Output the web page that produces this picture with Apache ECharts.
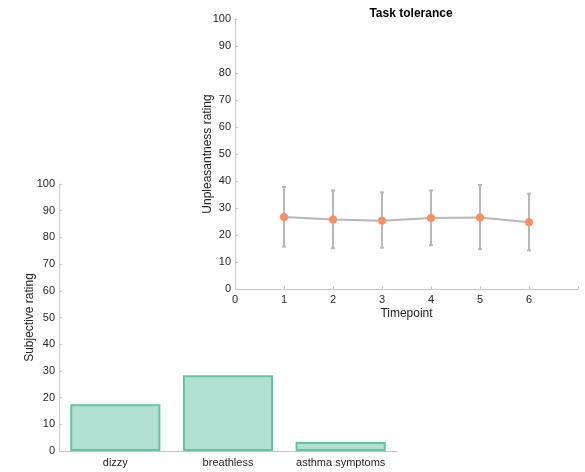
<!DOCTYPE html>
<html><head><meta charset="utf-8">
<script src="https://cdn.jsdelivr.net/npm/echarts@6/dist/echarts.min.js"></script>
<style>html,body{margin:0;padding:0;background:#fff}#c{width:585px;height:472px}</style>
</head><body><div id="c"></div>
<script>
const barCategories = ['dizzy', 'breathless', 'asthma symptoms'];
const barValues = [17.5, 28.4, 3.4];
const timepoints = [1, 2, 3, 4, 5, 6];
const meanRating = [26.7, 25.7, 25.3, 26.3, 26.5, 24.7];
const upperRating = [37.8, 36.5, 35.8, 36.5, 38.5, 35.3];
const lowerRating = [15.7, 15.1, 15.3, 16.2, 14.8, 14.3];

const FONT = 'Liberation Sans, Arial, sans-serif';
const txt = '#262626';
const axisCol = '#c8c8c8';
const chart = echarts.init(document.getElementById('c'));
const yAxisCommon = {
  type: 'value', min: 0, max: 100, interval: 10,
  axisLine: { show: true, lineStyle: { color: axisCol } },
  axisTick: { show: true, inside: true, length: 3, lineStyle: { color: axisCol } },
  axisLabel: { color: txt, fontSize: 11, fontFamily: FONT, margin: 4 },
  splitLine: { show: false },
  nameLocation: 'middle', nameMoveOverlap: false,
  nameTextStyle: { color: txt, fontSize: 12, fontFamily: FONT }
};
chart.setOption({
  animation: false,
  title: { text: 'Task tolerance', left: 406, top: 3, textAlign: 'center',
    textStyle: { fontSize: 12, fontWeight: 'bold', color: '#000', fontFamily: FONT } },
  grid: [
    { left: 59, top: 184, width: 338, height: 267 },
    { left: 235, top: 19, width: 343, height: 270 }
  ],
  xAxis: [
    { gridIndex: 0, type: 'category', data: barCategories,
      axisLine: { lineStyle: { color: axisCol } },
      axisTick: { show: true, inside: true, alignWithLabel: true, length: 3, lineStyle: { color: axisCol } },
      axisLabel: { color: txt, fontSize: 11, fontFamily: FONT, margin: 6, interval: 0 } },
    { gridIndex: 1, type: 'value', min: 0, max: 7, interval: 1,
      axisLine: { show: true, lineStyle: { color: axisCol } },
      axisTick: { show: true, inside: true, length: 3, lineStyle: { color: axisCol } },
      axisLabel: { color: txt, fontSize: 11, fontFamily: FONT, margin: 5,
        formatter: v => v === 7 ? '' : String(v) },
      splitLine: { show: false },
      name: 'Timepoint', nameLocation: 'middle', nameGap: 19, nameMoveOverlap: false,
      nameTextStyle: { color: txt, fontSize: 12, fontFamily: FONT } }
  ],
  yAxis: [
    Object.assign({}, yAxisCommon, { gridIndex: 0, name: 'Subjective rating', nameGap: 23 }),
    Object.assign({}, yAxisCommon, { gridIndex: 1, name: 'Unpleasantness rating', nameGap: 21 })
  ],
  series: [
    { type: 'bar', xAxisIndex: 0, yAxisIndex: 0, data: barValues, barWidth: '80%',
      itemStyle: { color: '#b2e0d2', borderColor: '#66c2a5', borderWidth: 2 } },
    { type: 'custom', xAxisIndex: 1, yAxisIndex: 1,
      data: timepoints.map((t, i) => [t, lowerRating[i], upperRating[i]]),
      renderItem: (params, api) => {
        const x = api.value(0);
        const lo = api.coord([x, api.value(1)]);
        const hi = api.coord([x, api.value(2)]);
        const w = 2;
        const st = { stroke: '#b8b8b8', lineWidth: 2 };
        return { type: 'group', children: [
          { type: 'line', shape: { x1: lo[0], y1: lo[1], x2: hi[0], y2: hi[1] }, style: st },
          { type: 'line', shape: { x1: lo[0] - w, y1: lo[1], x2: lo[0] + w, y2: lo[1] }, style: st },
          { type: 'line', shape: { x1: hi[0] - w, y1: hi[1], x2: hi[0] + w, y2: hi[1] }, style: st }
        ] };
      }, z: 2 },
    { type: 'line', xAxisIndex: 1, yAxisIndex: 1,
      data: timepoints.map((t, i) => [t, meanRating[i]]),
      symbol: 'circle', symbolSize: 8,
      lineStyle: { color: '#b8b8b8', width: 2 },
      itemStyle: { color: '#fc8d62' }, z: 3 }
  ]
});
</script></body></html>
